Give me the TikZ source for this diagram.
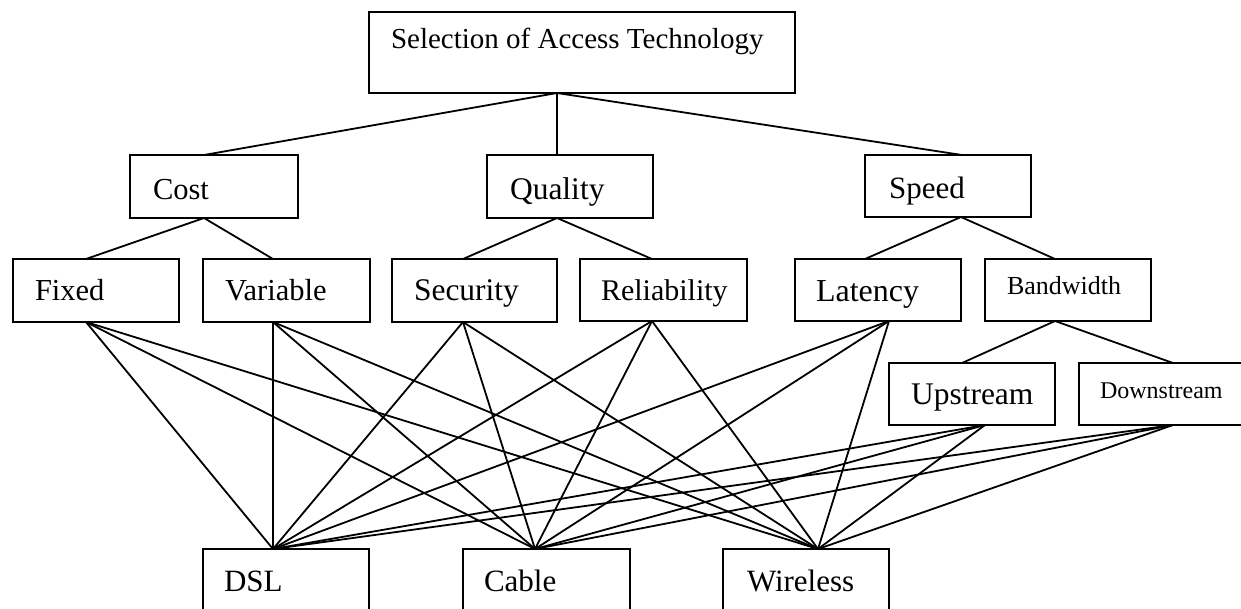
\documentclass[tikz,border=0pt]{standalone}
\usepackage{fontspec}
\setmainfont{Liberation Serif}
\newcommand\fs[1]{\fontsize{#1pt}{#1pt}\selectfont}
\begin{document}
\begin{tikzpicture}[x=1pt,y=-1pt,
  box/.style={draw, line width=1.8pt, inner sep=0pt, outer sep=0pt, anchor=north west},
  lbl/.style={inner sep=0pt, outer sep=0pt, anchor=base west},
  link/.style={line width=1.8pt}]
\useasboundingbox (0,0) rectangle (1241,608);
\clip (0,0) rectangle (1241,608);

% boxes: anchored at their top-left corner
\node[box, minimum width=426pt, minimum height=81pt] (top) at (369,12) {};
\node[box, minimum width=168pt, minimum height=63pt] (cost) at (130,155) {};
\node[box, minimum width=166pt, minimum height=63pt] (quality) at (487,155) {};
\node[box, minimum width=166pt, minimum height=62pt] (speed) at (865,155) {};
\node[box, minimum width=166pt, minimum height=63pt] (fixed) at (13,259) {};
\node[box, minimum width=167pt, minimum height=63pt] (variable) at (203,259) {};
\node[box, minimum width=165pt, minimum height=63pt] (security) at (392,259) {};
\node[box, minimum width=167pt, minimum height=62pt] (reliability) at (580,259) {};
\node[box, minimum width=166pt, minimum height=62pt] (latency) at (795,259) {};
\node[box, minimum width=166pt, minimum height=62pt] (bandwidth) at (985,259) {};
\node[box, minimum width=166pt, minimum height=62pt] (upstream) at (889,363) {};
\node[box, minimum width=166pt, minimum height=62pt] (downstream) at (1079,363) {};
\node[box, minimum width=166pt, minimum height=86pt] (dsl) at (203,549) {};
\node[box, minimum width=167pt, minimum height=86pt] (cable) at (463,549) {};
\node[box, minimum width=166pt, minimum height=86pt] (wireless) at (723,549) {};

% labels, set at their baseline
\node[lbl, font=\fs{29}] (top-t) at (391,48) {Selection of Access Technology};
\node[lbl, font=\fs{30.5}] (cost-t) at (153,199) {Cost};
\node[lbl, font=\fs{31.5}] (quality-t) at (510,199) {Quality};
\node[lbl, font=\fs{31}] (speed-t) at (889,198) {Speed};
\node[lbl, font=\fs{30.5}] (fixed-t) at (35,300) {Fixed};
\node[lbl, font=\fs{30.5}] (variable-t) at (225,300) {Variable};
\node[lbl, font=\fs{31.5}] (security-t) at (414,300) {Security};
\node[lbl, font=\fs{30}] (reliability-t) at (601,300) {Reliability};
\node[lbl, font=\fs{32}] (latency-t) at (816,301) {Latency};
\node[lbl, font=\fs{26}] (bandwidth-t) at (1007,294) {Bandwidth};
\node[lbl, font=\fs{31.5}] (upstream-t) at (911,404) {Upstream};
\node[lbl, font=\fs{24}] (downstream-t) at (1100,398) {Downstream};
\node[lbl, font=\fs{31}] (dsl-t) at (224,591) {DSL};
\node[lbl, font=\fs{31}] (cable-t) at (484,591) {Cable};
\node[lbl, font=\fs{31}] (wireless-t) at (747,591) {Wireless};

% connection ports on the box edges
\coordinate (top-s) at ([xshift=188pt]top.south west);
\coordinate (cost-n) at ([xshift=74pt]cost.north west);
\coordinate (cost-s) at ([xshift=74pt]cost.south west);
\coordinate (quality-n) at ([xshift=70pt]quality.north west);
\coordinate (quality-s) at ([xshift=70pt]quality.south west);
\coordinate (speed-n) at ([xshift=97pt]speed.north west);
\coordinate (speed-s) at ([xshift=96pt]speed.south west);
\coordinate (fixed-n) at ([xshift=73pt]fixed.north west);
\coordinate (fixed-s) at ([xshift=73pt]fixed.south west);
\coordinate (variable-n) at ([xshift=70pt]variable.north west);
\coordinate (variable-s) at ([xshift=70pt]variable.south west);
\coordinate (security-n) at ([xshift=71pt]security.north west);
\coordinate (security-s) at ([xshift=71pt]security.south west);
\coordinate (reliability-n) at ([xshift=72pt]reliability.north west);
\coordinate (reliability-s) at ([xshift=72pt]reliability.south west);
\coordinate (latency-n) at ([xshift=70pt]latency.north west);
\coordinate (latency-s) at ([xshift=94pt]latency.south west);
\coordinate (bandwidth-n) at ([xshift=70pt]bandwidth.north west);
\coordinate (bandwidth-s) at ([xshift=70pt]bandwidth.south west);
\coordinate (upstream-n) at ([xshift=73pt]upstream.north west);
\coordinate (upstream-s) at ([xshift=96pt]upstream.south west);
\coordinate (downstream-n) at ([xshift=94pt]downstream.north west);
\coordinate (downstream-s) at ([xshift=94pt]downstream.south west);
\coordinate (dsl-n) at ([xshift=70pt]dsl.north west);
\coordinate (cable-n) at ([xshift=72pt]cable.north west);
\coordinate (wireless-n) at ([xshift=95pt]wireless.north west);

% hierarchy
\draw[link] (top-s) -- (cost-n);
\draw[link] (top-s) -- (quality-n);
\draw[link] (top-s) -- (speed-n);
\draw[link] (cost-s) -- (fixed-n);
\draw[link] (cost-s) -- (variable-n);
\draw[link] (quality-s) -- (security-n);
\draw[link] (quality-s) -- (reliability-n);
\draw[link] (speed-s) -- (latency-n);
\draw[link] (speed-s) -- (bandwidth-n);
\draw[link] (bandwidth-s) -- (upstream-n);
\draw[link] (bandwidth-s) -- (downstream-n);

% every criterion leaf links to every alternative
\foreach \c in {fixed,variable,security,reliability,latency,upstream,downstream}
  \foreach \a in {dsl,cable,wireless}
    \draw[link] (\c-s) -- (\a-n);
\end{tikzpicture}
\end{document}
